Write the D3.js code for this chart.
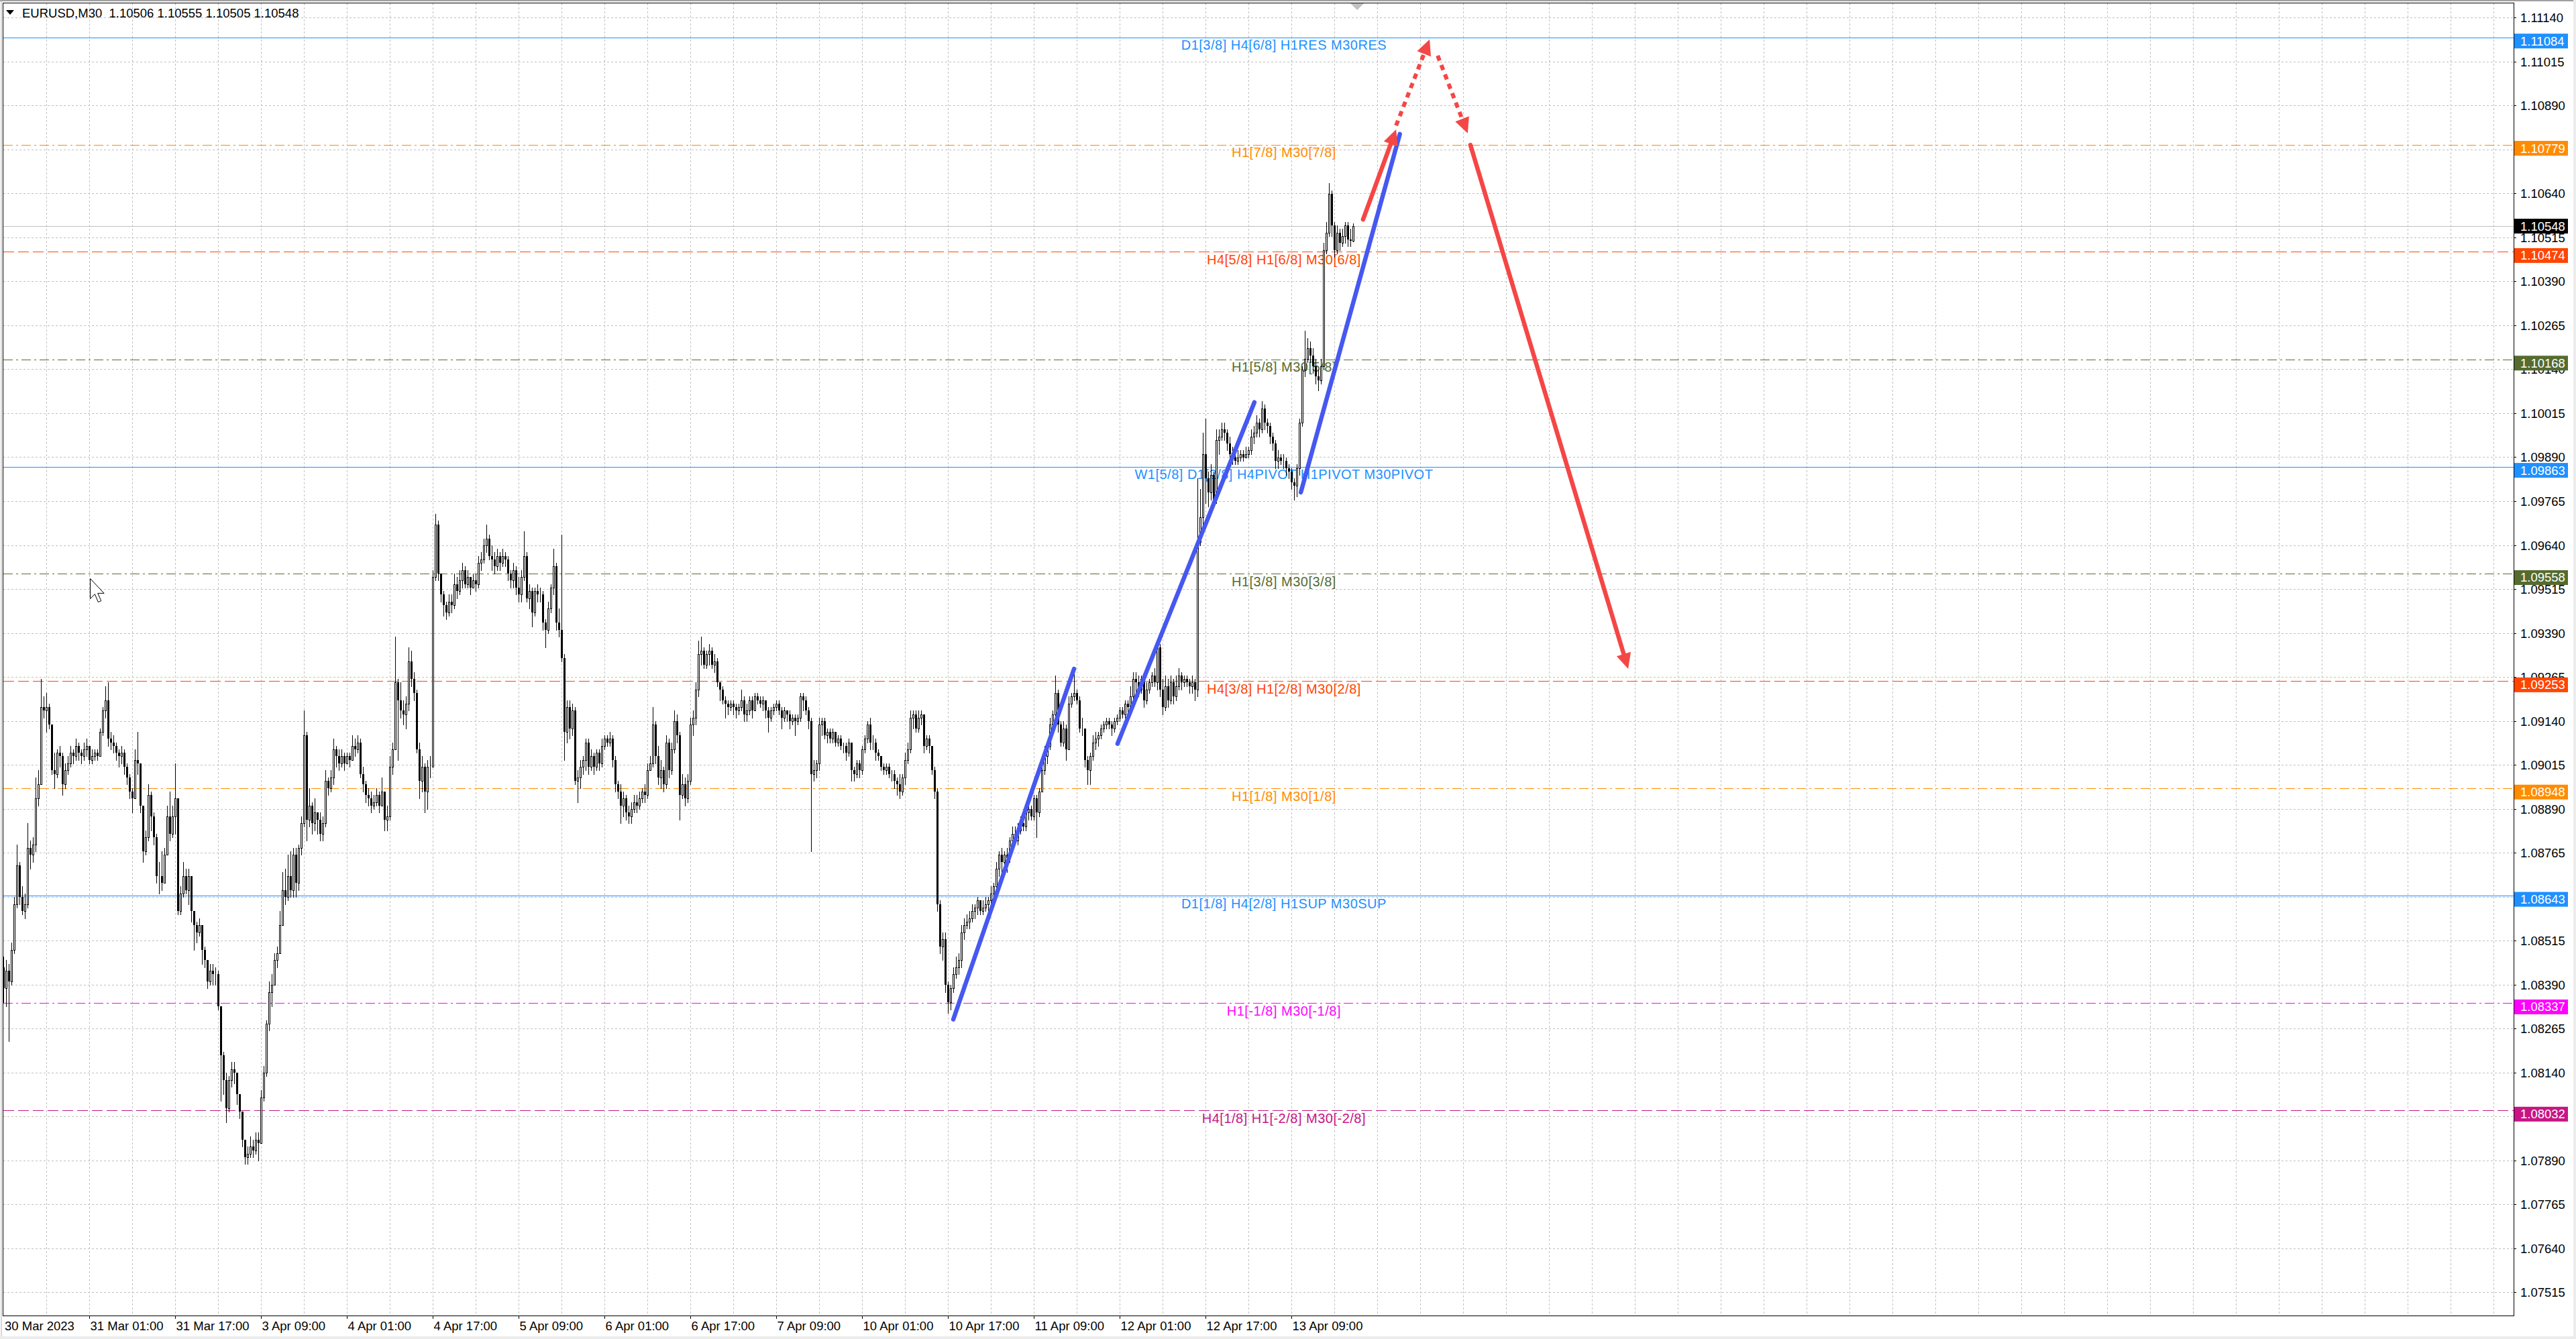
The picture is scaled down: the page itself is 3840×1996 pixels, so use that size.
<!DOCTYPE html>
<html>
<head>
<meta charset="utf-8">
<script src="https://cdn.jsdelivr.net/npm/d3@7"></script>
<style>
html, body { margin: 0; padding: 0; background: #fff; }
svg { display: block; }
</style>
</head>
<body>
<div id="chart"></div>
<script>
// EURUSD M30, 30 Mar - 13 Apr 2023, with Murrey-style levels and hand drawn forecast

var width = 3840,
	height = 1996,
	PLOT_LEFT = 5,
	PLOT_TOP = 5,
	PLOT_RIGHT = 3747,
	PLOT_BOTTOM = 1961;

// ---- candles: prices in points above 1.00000, open = previous close ----
var firstOpen = 8440;

var closes = [
	8380, 8430, 8400, 8490, 8620, 8730, 8640, 8600, 8620, 8780,
	8760, 8790, 8920, 8960, 9180, 9170, 9180, 9130, 9000, 8990,
	9050, 9040, 8960, 9000, 9020, 9050, 9040, 9070, 9050, 9040,
	9060, 9070, 9030, 9040, 9050, 9040, 9110, 9170, 9200, 9090,
	9080, 9070, 9050, 9040, 9050, 9010, 8980, 8940, 8920, 9030,
	9020, 8900, 8770, 8810, 8930, 8870, 8810, 8700, 8700, 8680,
	8760, 8870, 8820, 8870, 8920, 8600, 8650, 8700, 8660, 8700,
	8600, 8560, 8540, 8560, 8490, 8460, 8400, 8430, 8420, 8420,
	8330, 8190, 8120, 8040, 8120, 8150, 8140, 8080, 8030, 7950,
	7900, 7910, 7930, 7920, 7950, 7940, 8070, 8140, 8280, 8370,
	8390, 8460, 8480, 8560, 8660, 8640, 8700, 8660, 8760, 8680,
	8780, 8850, 9100, 8860, 8900, 8850, 8880, 8860, 8820, 8850,
	8970, 8950, 8980, 9060, 9040, 9020, 9040, 9020, 9040, 9030,
	9070, 9060, 9080, 8990, 8960, 8930, 8920, 8900, 8910, 8930,
	8900, 8940, 8860, 8870, 9010, 9060, 9250, 9200, 9170, 9160,
	9190, 9310, 9260, 9220, 9060, 8970, 9010, 8940, 9010, 9010,
	9550, 9700, 9560, 9500, 9470, 9450, 9480, 9470, 9530, 9510,
	9540, 9570, 9530, 9550, 9520, 9540, 9530, 9590, 9600, 9640,
	9660, 9610, 9600, 9580, 9610, 9590, 9610, 9600, 9560, 9540,
	9570, 9520, 9500, 9550, 9610, 9490, 9510, 9450, 9510, 9500,
	9500, 9420, 9400, 9460, 9520, 9580, 9420, 9400, 9320, 9110,
	9180, 9120, 9170, 8970, 8980, 9010, 9030, 9080, 9010, 9040,
	9010, 9050, 9020, 9070, 9090, 9080, 9090, 9030, 8960, 8940,
	8900, 8920, 8880, 8870, 8890, 8910, 8900, 8920, 8940, 8930,
	9000, 9020, 9130, 9040, 8980, 9000, 8960, 9080, 9000, 9060,
	9140, 9100, 8930, 8960, 8920, 8970, 9130, 9150, 9230, 9330,
	9340, 9300, 9330, 9340, 9300, 9310, 9250, 9230, 9200, 9190,
	9180, 9190, 9180, 9170, 9180, 9200, 9160, 9170, 9200, 9170,
	9210, 9200, 9190, 9200, 9170, 9150, 9170, 9180, 9190, 9170,
	9150, 9170, 9160, 9140, 9150, 9140, 9150, 9210, 9200, 9170,
	9140, 8990, 9000, 9020, 9130, 9140, 9100, 9110, 9090, 9110,
	9080, 9090, 9070, 9070, 9050, 9080, 9000, 8990, 9020, 9000,
	9060, 9090, 9130, 9080, 9080, 9050, 9040, 9010, 9000, 9010,
	8990, 8990, 8970, 8960, 8940, 8980, 9030, 9060, 9150, 9160,
	9120, 9150, 9160, 9070, 9090, 9070, 9000, 8940, 8620, 8500,
	8520, 8390, 8340, 8380, 8420, 8440, 8460, 8540, 8560, 8570,
	8580, 8600, 8610, 8630, 8600, 8610, 8620, 8630, 8650, 8670,
	8720, 8760, 8740, 8760, 8750, 8800, 8820, 8800, 8830, 8850,
	8840, 8880, 8890, 8870, 8920, 8880, 8940, 9000, 9040, 9070,
	9130, 9160, 9220, 9130, 9080, 9120, 9060, 9190, 9210, 9220,
	9200, 9120, 9120, 9030, 9000, 9040, 9080, 9090, 9100, 9120,
	9130, 9140, 9130, 9120, 9140, 9150, 9170, 9160, 9190, 9180,
	9210, 9260, 9250, 9230, 9260, 9200, 9230, 9250, 9270, 9250,
	9350, 9230, 9180, 9240, 9200, 9250, 9210, 9240, 9270, 9250,
	9260, 9250, 9240, 9250, 9230, 9650, 9720, 9900, 9830, 9790,
	9840, 9770, 9940, 9950, 9970, 9960, 9930, 9900, 9890, 9880,
	9890, 9900, 9890, 9900, 9910, 9950, 9960, 9990, 9970, 10030,
	9990, 9980, 9950, 9930, 9880, 9890, 9880, 9880, 9860, 9850,
	9820, 9810, 9860, 9990, 10140, 10170, 10200, 10180, 10150, 10120,
	10110, 10150, 10480, 10530, 10640, 10550, 10480, 10530, 10500, 10520,
	10550, 10510, 10506, 10548
];

var highs = [
	8470, 8460, 8450, 8510, 8640, 8790, 8740, 8670, 8650, 8850,
	8800, 8810, 8980, 9000, 9260, 9210, 9220, 9190, 9130, 9050,
	9060, 9070, 9050, 9020, 9040, 9070, 9060, 9090, 9080, 9060,
	9080, 9090, 9070, 9060, 9060, 9060, 9120, 9180, 9240, 9250,
	9110, 9100, 9080, 9060, 9070, 9060, 9020, 8990, 8950, 9060,
	9110, 9010, 8900, 8830, 8960, 8940, 8880, 8820, 8740, 8770,
	8780, 8900, 8940, 8900, 9020, 8920, 8670, 8740, 8720, 8720,
	8700, 8600, 8570, 8580, 8560, 8500, 8460, 8450, 8450, 8440,
	8430, 8330, 8200, 8140, 8130, 8170, 8170, 8140, 8080, 8030,
	7950, 7930, 7960, 7950, 7970, 7970, 8090, 8160, 8290, 8400,
	8420, 8480, 8500, 8600, 8710, 8720, 8760, 8770, 8780, 8780,
	8790, 8870, 9170, 9110, 8950, 8910, 8920, 8880, 8880, 8870,
	9000, 8980, 9000, 9090, 9070, 9060, 9060, 9050, 9050, 9050,
	9100, 9090, 9100, 9090, 9010, 8970, 8950, 8940, 8930, 8950,
	8940, 8980, 8920, 8900, 9040, 9080, 9380, 9260, 9250, 9200,
	9210, 9350, 9340, 9280, 9230, 9080, 9040, 9020, 9030, 9040,
	9570, 9730, 9710, 9560, 9510, 9480, 9500, 9500, 9560, 9550,
	9570, 9590, 9580, 9570, 9550, 9560, 9560, 9610, 9620, 9660,
	9700, 9670, 9640, 9620, 9630, 9620, 9630, 9620, 9610, 9570,
	9590, 9580, 9550, 9570, 9680, 9620, 9530, 9520, 9520, 9530,
	9520, 9510, 9430, 9480, 9530, 9630, 9590, 9460, 9670, 9330,
	9200, 9200, 9190, 9180, 9000, 9030, 9040, 9090, 9090, 9060,
	9050, 9060, 9060, 9090, 9100, 9100, 9110, 9100, 9040, 8970,
	8960, 8940, 8930, 8900, 8910, 8930, 8930, 8940, 8950, 8960,
	9020, 9040, 9180, 9140, 9070, 9030, 9010, 9100, 9090, 9080,
	9170, 9160, 9110, 8990, 8980, 8990, 9150, 9170, 9250, 9370,
	9380, 9350, 9340, 9360, 9350, 9330, 9320, 9250, 9240, 9210,
	9200, 9200, 9200, 9190, 9190, 9230, 9210, 9190, 9210, 9210,
	9220, 9220, 9210, 9210, 9200, 9180, 9180, 9190, 9200, 9200,
	9180, 9180, 9170, 9170, 9160, 9160, 9160, 9220, 9220, 9210,
	9180, 9150, 9030, 9030, 9150, 9150, 9150, 9120, 9120, 9120,
	9110, 9100, 9100, 9080, 9080, 9090, 9080, 9010, 9030, 9030,
	9070, 9100, 9140, 9150, 9100, 9090, 9060, 9040, 9020, 9020,
	9020, 9000, 9000, 8980, 8990, 8990, 9050, 9080, 9170, 9170,
	9170, 9170, 9170, 9160, 9100, 9100, 9070, 9010, 8950, 8630,
	8540, 8540, 8400, 8390, 8440, 8470, 8480, 8560, 8580, 8590,
	8600, 8620, 8620, 8640, 8630, 8630, 8640, 8640, 8670, 8680,
	8740, 8770, 8780, 8770, 8780, 8810, 8840, 8840, 8850, 8870,
	8870, 8890, 8910, 8900, 8930, 8930, 8950, 9010, 9070, 9080,
	9150, 9170, 9270, 9230, 9140, 9140, 9130, 9210, 9220, 9280,
	9230, 9210, 9150, 9120, 9040, 9050, 9100, 9110, 9110, 9130,
	9140, 9150, 9150, 9140, 9150, 9160, 9180, 9180, 9200, 9200,
	9240, 9280, 9280, 9270, 9270, 9260, 9250, 9260, 9280, 9290,
	9370, 9360, 9260, 9270, 9260, 9270, 9260, 9270, 9290, 9280,
	9270, 9270, 9260, 9270, 9260, 9830, 9800, 9960, 10000, 9850,
	9870, 9850, 9970, 9970, 9990, 9990, 9970, 9950, 9920, 9900,
	9910, 9910, 9910, 9920, 9920, 9970, 9980, 10010, 10000, 10050,
	10040, 10000, 9990, 9960, 9940, 9910, 9900, 9900, 9890, 9870,
	9860, 9830, 9870, 10000, 10150, 10250, 10230, 10220, 10200, 10170,
	10140, 10170, 10500, 10560, 10670, 10650, 10560, 10550, 10540, 10540,
	10560, 10560, 10540, 10555
];

var lows = [
	8340, 8330, 8230, 8390, 8480, 8610, 8620, 8590, 8580, 8610,
	8720, 8740, 8770, 8900, 8960, 9150, 9110, 9120, 8990, 8950,
	8980, 9010, 8930, 8950, 8990, 9010, 9020, 9030, 9030, 9020,
	9030, 9040, 9020, 9020, 9030, 9030, 9040, 9100, 9150, 9070,
	9060, 9050, 9030, 9010, 9020, 8990, 8960, 8920, 8880, 8920,
	8990, 8880, 8740, 8760, 8800, 8830, 8790, 8680, 8650, 8660,
	8680, 8760, 8800, 8810, 8820, 8590, 8590, 8640, 8650, 8620,
	8570, 8490, 8510, 8530, 8450, 8440, 8380, 8390, 8390, 8390,
	8320, 8060, 8080, 8000, 8030, 8100, 8110, 8050, 8010, 7930,
	7880, 7880, 7900, 7900, 7910, 7890, 7940, 8060, 8130, 8260,
	8330, 8420, 8440, 8480, 8570, 8620, 8630, 8640, 8640, 8640,
	8660, 8760, 8840, 8800, 8840, 8820, 8830, 8820, 8800, 8800,
	8840, 8930, 8940, 8960, 9010, 9000, 9010, 9000, 9020, 9010,
	9030, 9040, 9050, 8980, 8940, 8910, 8900, 8880, 8890, 8900,
	8880, 8900, 8830, 8830, 8860, 8990, 9060, 9030, 9150, 9130,
	9120, 9170, 9240, 9200, 9050, 8920, 8940, 8880, 8890, 8980,
	9010, 9540, 9540, 9480, 9440, 9430, 9440, 9450, 9460, 9490,
	9500, 9520, 9520, 9520, 9500, 9520, 9510, 9520, 9570, 9590,
	9620, 9600, 9570, 9560, 9570, 9570, 9580, 9580, 9540, 9520,
	9520, 9500, 9480, 9480, 9540, 9480, 9460, 9410, 9440, 9480,
	9480, 9400, 9350, 9390, 9450, 9500, 9400, 9380, 9310, 9030,
	9080, 9090, 9100, 8960, 8910, 8950, 8990, 9000, 8990, 9000,
	8990, 9000, 9000, 9010, 9060, 9070, 9070, 9010, 8940, 8920,
	8850, 8870, 8860, 8850, 8850, 8880, 8880, 8890, 8910, 8910,
	8920, 9000, 9010, 9020, 8960, 8950, 8940, 8950, 8980, 8990,
	9050, 9080, 8860, 8920, 8900, 8910, 8960, 9100, 9130, 9210,
	9300, 9290, 9290, 9300, 9290, 9280, 9240, 9200, 9190, 9150,
	9160, 9170, 9160, 9150, 9160, 9170, 9140, 9140, 9160, 9150,
	9170, 9190, 9180, 9170, 9150, 9110, 9140, 9160, 9170, 9160,
	9120, 9140, 9140, 9120, 9130, 9100, 9130, 9140, 9170, 9160,
	9120, 8770, 8970, 8980, 9000, 9100, 9090, 9080, 9080, 9080,
	9070, 9070, 9060, 9050, 9030, 9040, 8970, 8970, 8980, 8980,
	8990, 9050, 9080, 9060, 9060, 9030, 9030, 9000, 8990, 8990,
	8980, 8970, 8950, 8930, 8920, 8930, 8960, 9020, 9050, 9120,
	9110, 9110, 9130, 9050, 9060, 9050, 8990, 8920, 8600, 8480,
	8460, 8370, 8310, 8320, 8370, 8410, 8420, 8440, 8520, 8550,
	8550, 8570, 8580, 8590, 8590, 8590, 8600, 8600, 8620, 8630,
	8660, 8700, 8710, 8720, 8710, 8740, 8790, 8790, 8790, 8820,
	8830, 8830, 8860, 8860, 8860, 8810, 8870, 8940, 8990, 9020,
	9060, 9100, 9130, 9110, 9070, 9070, 9030, 9060, 9180, 9200,
	9190, 9110, 9100, 9010, 8960, 8960, 9030, 9060, 9070, 9090,
	9110, 9120, 9120, 9100, 9110, 9130, 9140, 9150, 9150, 9160,
	9170, 9200, 9210, 9210, 9220, 9180, 9190, 9220, 9240, 9240,
	9230, 9210, 9160, 9170, 9180, 9190, 9190, 9200, 9230, 9230,
	9240, 9240, 9220, 9220, 9200, 9210, 9640, 9700, 9760, 9750,
	9770, 9750, 9760, 9900, 9940, 9940, 9910, 9890, 9870, 9870,
	9870, 9880, 9880, 9890, 9890, 9900, 9930, 9950, 9950, 9960,
	9970, 9960, 9930, 9910, 9860, 9860, 9870, 9860, 9840, 9830,
	9800, 9770, 9780, 9840, 9980, 10120, 10160, 10160, 10130, 10100,
	10080, 10100, 10140, 10470, 10520, 10520, 10460, 10470, 10480, 10490,
	10500, 10490, 10490, 10505
];

// ---- price axis ----
var priceTicks = [
	"1.11140", "1.11015", "1.10890", "1.10765", "1.10640", "1.10515", "1.10390", "1.10265",
	"1.10140", "1.10015", "1.09890", "1.09765", "1.09640", "1.09515", "1.09390", "1.09265",
	"1.09140", "1.09015", "1.08890", "1.08765", "1.08640", "1.08515", "1.08390", "1.08265",
	"1.08140", "1.08015", "1.07890", "1.07765", "1.07640", "1.07515"
];
// labels the terminal leaves out because a level box sits on them
var hiddenTickLabels = ["1.10765", "1.08640", "1.08015"];

// ---- time axis ----
var timeLabels = [
	"30 Mar 2023", "31 Mar 01:00", "31 Mar 17:00", "3 Apr 09:00", "4 Apr 01:00", "4 Apr 17:00",
	"5 Apr 09:00", "6 Apr 01:00", "6 Apr 17:00", "7 Apr 09:00", "10 Apr 01:00", "10 Apr 17:00",
	"11 Apr 09:00", "12 Apr 01:00", "12 Apr 17:00", "13 Apr 09:00"
];
var timeLabelBars = [0, 32, 64, 96, 128, 160, 192, 224, 256, 288, 320, 352, 384, 416, 448, 480];

// ---- horizontal levels ----
var levelPrices = [1.11084, 1.10779, 1.10474, 1.10168, 1.09863, 1.09558, 1.09253, 1.08948, 1.08643, 1.08337, 1.08032];
var levelNames = [
	"D1[3/8] H4[6/8] H1RES M30RES",
	"H1[7/8] M30[7/8]",
	"H4[5/8] H1[6/8] M30[6/8]",
	"H1[5/8] M30[5/8]",
	"W1[5/8] D1[2/8] H4PIVOT H1PIVOT M30PIVOT",
	"H1[3/8] M30[3/8]",
	"H4[3/8] H1[2/8] M30[2/8]",
	"H1[1/8] M30[1/8]",
	"D1[1/8] H4[2/8] H1SUP M30SUP",
	"H1[-1/8] M30[-1/8]",
	"H4[1/8] H1[-2/8] M30[-2/8]"
];
var levelKinds = ["major", "octave7", "octave6", "octave5", "major", "octave5", "octave6", "octave7", "major", "minus1", "minus2"];
var levelLabelBar = 477.1;

var bidPrice = 1.10548;
var title = "EURUSD,M30  1.10506 1.10555 1.10505 1.10548";

// ---- drawn objects (bar index, price) ----
var trendLines = [
	{ i0: 353.9, p0: 1.08292, i1: 398.9, p1: 1.09289 },
	{ i0: 415.1, p0: 1.09076, i1: 466.1, p1: 1.10047 },
	{ i0: 483.4, p0: 1.09791, i1: 520.3, p1: 1.10810 }
];
var arrows = [
	{ i0: 506.6, p0: 1.10567, i1: 518.9, p1: 1.10823, dotted: false },
	{ i0: 518.9, p0: 1.10834, i1: 531.4, p1: 1.11079, dotted: true },
	{ i0: 534.4, p0: 1.11033, i1: 545.6, p1: 1.10812, dotted: true },
	{ i0: 546.6, p0: 1.10779, i1: 605.4, p1: 1.09289, dotted: false }
];

// ---- styles ----
var kindStyle = {
	major:   { color: "#1E90FF", dash: null },
	octave7: { color: "#FF8C00", dash: "14,5,3,5" },
	octave6: { color: "#FF4500", dash: "16,6" },
	octave5: { color: "#556B2F", dash: "14,5,3,5" },
	minus1:  { color: "#FF00FF", dash: "14,5,3,5" },
	minus2:  { color: "#C71585", dash: "16,6" }
};
var GRID = "#c0c0c0",
	TREND_BLUE = "#4658F0",
	ARROW_RED = "#F54646",
	AXIS_FONT = "18.5px",
	LEVEL_FONT = "20px",
	LEVEL_BOX_SHIFT = 5; // the level boxes sit a little under their line

var x = d3.scaleLinear().domain([0, 1]).range([5.5, 9.5]); // 4px per bar
var y = d3.scaleLinear().domain([1.07515, 1.11140]).range([1926.8, 26.8]);

var crisp = function(v) { return Math.round(v - 0.5) + 0.5; };
var pts = function(v) { return 1 + v / 100000; };

var svg = d3.select("#chart").append("svg")
	.attr("width", width)
	.attr("height", height)
	.style("font-family", "'Liberation Sans', Arial, sans-serif");

svg.append("rect").attr("width", width).attr("height", height).attr("fill", "#fff");

svg.append("defs").append("clipPath").attr("id", "plot")
	.append("rect")
	.attr("x", PLOT_LEFT).attr("y", PLOT_TOP)
	.attr("width", PLOT_RIGHT - PLOT_LEFT).attr("height", PLOT_BOTTOM - PLOT_TOP);

var plot = svg.append("g").attr("clip-path", "url(#plot)");

// grid
var grid = plot.append("g")
	.attr("stroke", GRID)
	.attr("stroke-width", 1)
	.attr("stroke-dasharray", "3,3");

grid.selectAll(".hgrid")
	.data(priceTicks)
	.enter()
	.append("line")
	.attr("x1", PLOT_LEFT).attr("x2", PLOT_RIGHT)
	.attr("y1", function(d) { return crisp(y(+d)); })
	.attr("y2", function(d) { return crisp(y(+d)); });

var lastGridBar = Math.floor(x.invert(PLOT_RIGHT));
grid.selectAll(".vgrid")
	.data(d3.range(16, lastGridBar + 1, 16))
	.enter()
	.append("line")
	.attr("x1", function(d) { return x(d); })
	.attr("x2", function(d) { return x(d); })
	.attr("y1", PLOT_TOP).attr("y2", PLOT_BOTTOM);

// levels
var levels = levelPrices.map(function(p, i) {
	return { price: p, name: levelNames[i], style: kindStyle[levelKinds[i]] };
});

plot.append("line")
	.attr("x1", PLOT_LEFT).attr("x2", PLOT_RIGHT)
	.attr("y1", crisp(y(bidPrice))).attr("y2", crisp(y(bidPrice)))
	.attr("stroke", "#c0c0c0");

plot.selectAll(".level")
	.data(levels)
	.enter()
	.append("line")
	.attr("x1", PLOT_LEFT).attr("x2", PLOT_RIGHT)
	.attr("y1", function(d) { return crisp(y(d.price)); })
	.attr("y2", function(d) { return crisp(y(d.price)); })
	.attr("stroke", function(d) { return d.style.color; })
	.attr("stroke-width", 1)
	.attr("stroke-dasharray", function(d) { return d.style.dash; });

plot.selectAll(".levelText")
	.data(levels)
	.enter()
	.append("text")
	.attr("x", x(levelLabelBar))
	.attr("y", function(d) { return y(d.price) + 18; })
	.attr("text-anchor", "middle")
	.style("font-size", LEVEL_FONT)
	.style("letter-spacing", "0.5px")
	.attr("fill", function(d) { return d.style.color; })
	.text(function(d) { return d.name; });

// candles
var bars = closes.map(function(c, i) {
	var o = i === 0 ? firstOpen : closes[i - 1];
	return {
		i: i,
		o: pts(o),
		c: pts(c),
		h: pts(Math.max(highs[i], o, c)),
		l: pts(Math.min(lows[i], o, c))
	};
});

var candles = plot.append("g");

candles.selectAll(".wick")
	.data(bars)
	.enter()
	.append("line")
	.attr("x1", function(d) { return x(d.i); })
	.attr("x2", function(d) { return x(d.i); })
	.attr("y1", function(d) { return Math.round(y(d.h)); })
	.attr("y2", function(d) { return Math.round(y(d.l)) + 1; })
	.attr("stroke", "#000")
	.attr("stroke-width", 1);

candles.selectAll(".body")
	.data(bars)
	.enter()
	.append("rect")
	.attr("x", function(d) { return d.c >= d.o ? x(d.i) - 1 : x(d.i) - 1.5; })
	.attr("width", function(d) { return d.c >= d.o ? 2 : 3; })
	.attr("y", function(d) {
		var top = Math.round(y(Math.max(d.o, d.c)));
		return d.c >= d.o ? top + 0.5 : top;
	})
	.attr("height", function(d) {
		var h = Math.round(y(Math.min(d.o, d.c))) - Math.round(y(Math.max(d.o, d.c)));
		return d.c >= d.o ? Math.max(h, 0) : Math.max(h, 1);
	})
	.attr("fill", function(d) { return d.c >= d.o ? "#fff" : "#000"; })
	.attr("stroke", function(d) { return d.c >= d.o ? "#000" : "none"; })
	.attr("stroke-width", 1);

// trend lines
plot.selectAll(".trend")
	.data(trendLines)
	.enter()
	.append("line")
	.attr("x1", function(d) { return x(d.i0); })
	.attr("y1", function(d) { return y(d.p0); })
	.attr("x2", function(d) { return x(d.i1); })
	.attr("y2", function(d) { return y(d.p1); })
	.attr("stroke", TREND_BLUE)
	.attr("stroke-width", 6.5)
	.attr("stroke-linecap", "round");

// arrows
var HEAD_LEN = 23, HEAD_HALF = 11;
arrows.forEach(function(a) {
	var x0 = x(a.i0), y0 = y(a.p0), x1 = x(a.i1), y1 = y(a.p1);
	var dx = x1 - x0, dy = y1 - y0, len = Math.sqrt(dx * dx + dy * dy);
	var ux = dx / len, uy = dy / len;
	var bx = x1 - ux * HEAD_LEN, by = y1 - uy * HEAD_LEN;

	plot.append("line")
		.attr("x1", x0).attr("y1", y0)
		.attr("x2", bx + ux * 2).attr("y2", by + uy * 2)
		.attr("stroke", ARROW_RED)
		.attr("stroke-width", a.dotted ? 6 : 6.5)
		.attr("stroke-dasharray", a.dotted ? "8,7" : null)
		.attr("stroke-linecap", a.dotted ? "butt" : "round");

	plot.append("path")
		.attr("d", "M" + x1 + "," + y1 +
			"L" + (bx - uy * HEAD_HALF) + "," + (by + ux * HEAD_HALF) +
			"L" + (bx + uy * HEAD_HALF) + "," + (by - ux * HEAD_HALF) + "Z")
		.attr("fill", ARROW_RED);
});

// chart shift marker
var shiftX = x(closes.length + 0.4);
svg.append("path")
	.attr("d", "M" + (shiftX - 10) + ",5L" + (shiftX + 10) + ",5L" + shiftX + ",15Z")
	.attr("fill", "#c0c0c0");

// frame
var frame = svg.append("g").attr("stroke", "#000").attr("stroke-width", 1);
frame.append("line").attr("x1", 4.5).attr("x2", 4.5).attr("y1", 4).attr("y2", PLOT_BOTTOM + 1);
frame.append("line").attr("x1", 4).attr("x2", PLOT_RIGHT + 1).attr("y1", 4.5).attr("y2", 4.5);
frame.append("line").attr("x1", PLOT_RIGHT + 0.5).attr("x2", PLOT_RIGHT + 0.5).attr("y1", 4).attr("y2", PLOT_BOTTOM + 1);
frame.append("line").attr("x1", 4).attr("x2", PLOT_RIGHT + 1).attr("y1", PLOT_BOTTOM + 0.5).attr("y2", PLOT_BOTTOM + 0.5);

svg.append("line").attr("x1", 0).attr("x2", width).attr("y1", 1).attr("y2", 1).attr("stroke", "#a0a0a0").attr("stroke-width", 2);
svg.append("line").attr("x1", 2).attr("x2", 2).attr("y1", 0).attr("y2", height).attr("stroke", "#b0b0b0").attr("stroke-width", 1);
svg.append("rect").attr("x", 3836).attr("y", 0).attr("width", 4).attr("height", height).attr("fill", "#ececec");
svg.append("rect").attr("x", 0).attr("y", 1992).attr("width", width).attr("height", 4).attr("fill", "#ececec");

// price axis
var axis = svg.append("g").style("font-size", AXIS_FONT).attr("fill", "#000");

axis.selectAll(".ptick")
	.data(priceTicks)
	.enter()
	.append("line")
	.attr("x1", PLOT_RIGHT).attr("x2", PLOT_RIGHT + 4)
	.attr("y1", function(d) { return crisp(y(+d)); })
	.attr("y2", function(d) { return crisp(y(+d)); })
	.attr("stroke", "#000");

axis.selectAll(".plabel")
	.data(priceTicks.filter(function(d) { return hiddenTickLabels.indexOf(d) < 0; }))
	.enter()
	.append("text")
	.attr("x", 3757)
	.attr("y", function(d) { return y(+d) + 6.5; })
	.text(function(d) { return d; });

var boxes = levels.map(function(d) { return { price: d.price, color: d.style.color, shift: LEVEL_BOX_SHIFT }; });
boxes.push({ price: bidPrice, color: "#000", shift: 0 });

var box = axis.selectAll(".pbox")
	.data(boxes)
	.enter()
	.append("g");

box.append("rect")
	.attr("x", PLOT_RIGHT + 1)
	.attr("y", function(d) { return y(d.price) + d.shift - 11; })
	.attr("width", 80)
	.attr("height", 22)
	.attr("fill", function(d) { return d.color; });

box.append("text")
	.attr("x", 3757)
	.attr("y", function(d) { return y(d.price) + d.shift + 6.5; })
	.attr("fill", "#fff")
	.text(function(d) { return d.price.toFixed(5); });

// time axis
axis.selectAll(".ttick")
	.data(timeLabelBars.slice(1))
	.enter()
	.append("line")
	.attr("x1", function(d) { return x(d); })
	.attr("x2", function(d) { return x(d); })
	.attr("y1", PLOT_BOTTOM).attr("y2", PLOT_BOTTOM + 5)
	.attr("stroke", "#000");

axis.selectAll(".tlabel")
	.data(timeLabels)
	.enter()
	.append("text")
	.attr("x", function(d, i) { return i === 0 ? 7 : x(timeLabelBars[i]) + 1; })
	.attr("y", 1983)
	.text(function(d) { return d; });

// title
svg.append("path").attr("d", "M9,15L21,15L15,22Z").attr("fill", "#000");
svg.append("text")
	.attr("x", 33).attr("y", 26)
	.style("font-size", AXIS_FONT)
	.style("white-space", "pre")
	.attr("fill", "#000")
	.text(title);

// mouse pointer left on the chart
svg.append("path")
	.attr("transform", "translate(134.5,862.5) scale(1.25)")
	.attr("d", "M0,0L0,24L5.5,18.5L9.5,28L13,26.5L9,17.5L16.5,17.5Z")
	.attr("fill", "#fff")
	.attr("stroke", "#000")
	.attr("stroke-width", 0.8);
</script>
</body>
</html>
